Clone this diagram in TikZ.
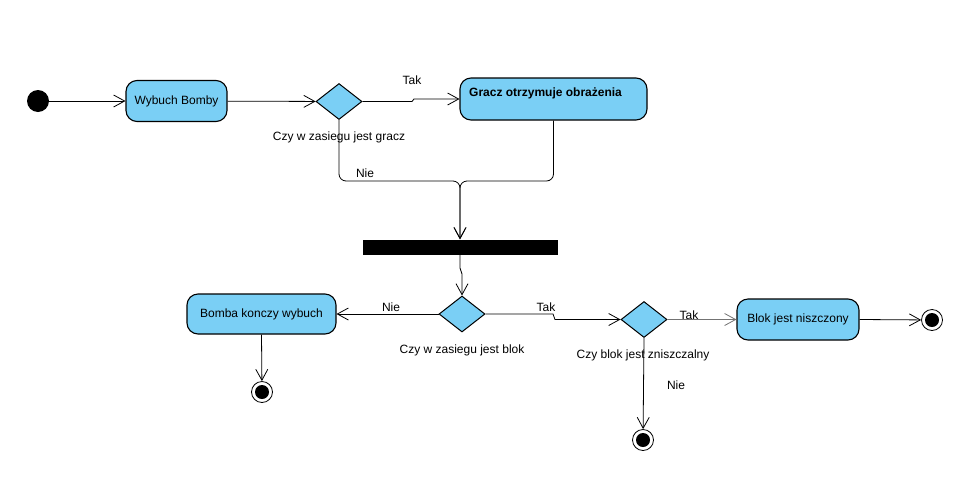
\documentclass[tikz,border=0pt]{standalone}
\usepackage{fontspec}
\setmainfont{Liberation Sans}
\usetikzlibrary{shapes.geometric,arrows.meta}
\definecolor{actfill}{RGB}{122,207,245}
\begin{document}
\begin{tikzpicture}[x=1pt,y=-1pt,
  font=\fontsize{12}{14}\selectfont,
  act/.style={draw=black, line width=1.1pt, fill=actfill, rounded corners=11pt, inner sep=0pt},
  dec/.style={diamond, draw=black, line width=1pt, fill=actfill, inner sep=0pt, minimum width=46pt, minimum height=36pt},
  tip/.style={-{Straight Barb[length=11pt,width=12pt,line width=0.8pt]}},
  flow/.style={draw=black, line width=0.8pt, tip},
  plain/.style={draw=black, line width=0.8pt},
  final/.style={circle, draw=black, line width=0.8pt, fill=white, minimum size=21pt, inner sep=0pt,
    path picture={\fill[black] (path picture bounding box.center) circle (7pt);}},
  lbl/.style={inner sep=0pt}
]
\useasboundingbox (0,0) rectangle (969,488);
\fill[white] (0,0) rectangle (969,488);

% nodes
\node[circle, fill=black, minimum size=22pt, inner sep=0pt] (s) at (38,101) {};
\node[act, minimum width=101pt, minimum height=41pt] (wb) at (176.5,101) {Wybuch Bomby};
\node[dec] (d1) at (339,101.5) {};
\node[lbl] (d1l) at (339,137) {Czy w zasiegu jest gracz};
\node[act, minimum width=187pt, minimum height=42pt] (g) at (553.5,99) {};
\node[lbl, anchor=west, font=\fontsize{12}{14}\selectfont\bfseries] (gt) at (469,93) {Gracz otrzymuje obrażenia};
\node[fill=black, minimum width=195pt, minimum height=15pt, inner sep=0pt] (bar) at (460,247) {};
\node[dec] (d2) at (462,314) {};
\node[lbl] (d2l) at (462,350) {Czy w zasiegu jest blok};
\node[act, minimum width=149pt, minimum height=40pt] (bk) at (261.5,314) {Bomba konczy wybuch};
\node[final] (f1) at (262,392) {};
\node[dec] (d3) at (644,319.5) {};
\node[lbl] (d3l) at (643,355) {Czy blok jest zniszczalny};
\node[act, minimum width=122pt, minimum height=41pt] (bl) at (798,319.5) {Blok jest niszczony};
\node[final] (f2) at (932,320) {};
\node[final] (f3) at (643,440) {};

% edge labels
\node[lbl] (t1) at (412,80) {Tak};
\node[lbl] (n1) at (365,173) {Nie};
\node[lbl] (n2) at (391,307) {Nie};
\node[lbl] (t2) at (546,307) {Tak};
\node[lbl] (t3) at (689,315) {Tak};
\node[lbl] (n3) at (676,385) {Nie};

\coordinate (j) at (460,181);
\coordinate (a1) at (412,101.5);
\coordinate (a2) at (414,99);
\coordinate (b1) at (460,268);
\coordinate (b2) at (462,274);
\coordinate (c1) at (553,314);
\coordinate (c2) at (555,319.5);

% connectors
\draw[flow] (s) -- (wb);
\draw[flow] (wb) -- (d1);
\draw[flow] (d1.east) -- (a1) -- (a2) -- (g.west);
\draw[flow, rounded corners=7pt] (d1.south) |- (j) -- (bar.north);
\draw[flow, rounded corners=7pt] (g.south) |- (j) -- (bar.north);
\draw[flow] (bar.south) -- (b1) -- (b2) -- (d2.north);
\draw[flow] (d2.west) -- (bk.east);
\draw[flow] (bk.south) -- (f1);
\draw[flow] (d2.east) -- (c1) -- (c2) -- (d3.west);
\draw[flow, draw=black!55, line width=1.1pt] (d3.east) -- (bl.west);
\draw[flow] (bl.east) -- (f2);
\draw[flow] (d3.south) -- (f3);
\end{tikzpicture}
\end{document}
